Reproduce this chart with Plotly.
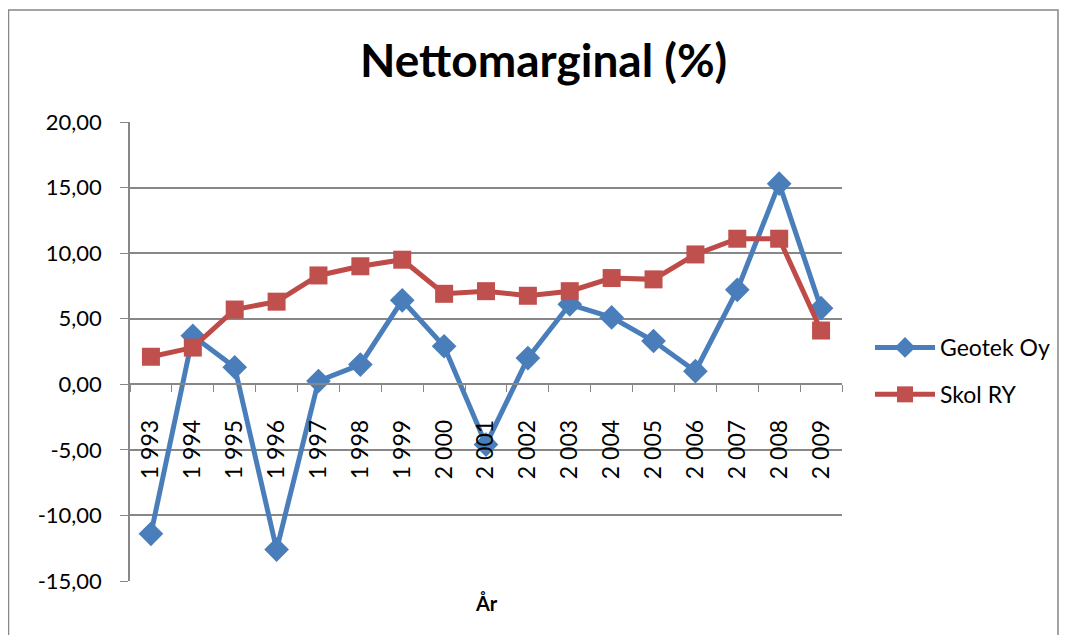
import plotly.graph_objects as go

years = ["1 993", "1 994", "1 995", "1 996", "1 997", "1 998", "1 999", "2 000", "2 001",
         "2 002", "2 003", "2 004", "2 005", "2 006", "2 007", "2 008", "2 009"]
geotek = [-11.4, 3.7, 1.3, -12.6, 0.25, 1.5, 6.4, 2.9, -4.6, 2.0, 6.1, 5.1, 3.3, 1.0, 7.2, 15.3, 5.8]
skol = [2.1, 2.8, 5.7, 6.3, 8.3, 9.0, 9.5, 6.9, 7.1, 6.75, 7.1, 8.1, 8.0, 9.9, 11.1, 11.1, 4.1]
ytick_vals = [-15, -10, -5, 0, 5, 10, 15, 20]
ytick_text = ["-15,00", "-10,00", "-5,00", "0,00", "5,00", "10,00", "15,00", "20,00"]

OFF = 8  # browser body margin
W, H = 1051, 627
L, R, T, B = 130 - OFF, 842 - OFF, 122 - OFF, 581 - OFF  # plot area in figure pixels
FONT = "Lato"

def px_x(p):
    return (p - OFF - L) / (R - L)

def px_y(p):
    return (B - (p - OFF)) / (B - T)

fig = go.Figure()
fig.add_trace(go.Scatter(
    x=years, y=geotek, name="Geotek Oy", mode="lines+markers", legendgroup="a",
    line=dict(color="#4A7EBB", width=5),
    marker=dict(symbol="diamond", size=19, color="#4A7EBB"),
))
fig.add_trace(go.Scatter(
    x=years, y=skol, name="Skol RY", mode="lines+markers", legendgroup="b",
    line=dict(color="#BE4B48", width=5),
    marker=dict(symbol="square", size=18, color="#C0504D"),
))

fig.update_layout(
    width=W, height=H,
    margin=dict(l=L, r=W - R, t=T, b=H - B, autoexpand=False),
    paper_bgcolor="white", plot_bgcolor="white",
    font=dict(family=FONT, size=22, color="black"),
    showlegend=True,
    legend=dict(x=px_x(870), y=px_y(326), xanchor="left", yanchor="top",
                font=dict(size=23, family=FONT), tracegroupgap=14, itemwidth=60,
                bgcolor="rgba(0,0,0,0)"),
    xaxis=dict(type="category", anchor="free", position=px_y(384),
               showgrid=False, showline=True, linecolor="#878787", linewidth=1.5,
               ticks="outside", tickson="boundaries", ticklen=7, tickcolor="#878787",
               tickangle=-90, tickfont=dict(size=23, family=FONT), zeroline=False,
               ticklabelstandoff=26,
               range=[-0.5, len(years) - 0.5]),
    yaxis=dict(range=[-15, 20], tickvals=ytick_vals, ticktext=ytick_text,
               showgrid=True, gridcolor="#878787", gridwidth=1.5,
               showline=True, linecolor="#878787", linewidth=1.5,
               ticks="outside", ticklen=8, tickcolor="#878787", zeroline=False,
               ticklabelstandoff=14,
               tickfont=dict(size=22, family=FONT)),
    annotations=[
        dict(text="<b>Nettomarginal (%)</b>", xref="paper", yref="paper",
             x=px_x(543), y=px_y(60), xanchor="center", yanchor="middle",
             showarrow=False, font=dict(size=46, family=FONT, color="black")),
        dict(text="<b>År</b>", xref="paper", yref="paper",
             x=px_x(486), y=px_y(603), xanchor="center", yanchor="middle",
             showarrow=False, font=dict(size=20, family=FONT, color="black")),
    ],
    shapes=[
        dict(type="rect", xref="paper", yref="paper",
             x0=px_x(8.5), x1=px_x(1058), y0=px_y(660), y1=px_y(10),
             line=dict(color="#878787", width=1.5), fillcolor="rgba(0,0,0,0)", layer="below"),
    ],
)

fig.write_html("out.html")
